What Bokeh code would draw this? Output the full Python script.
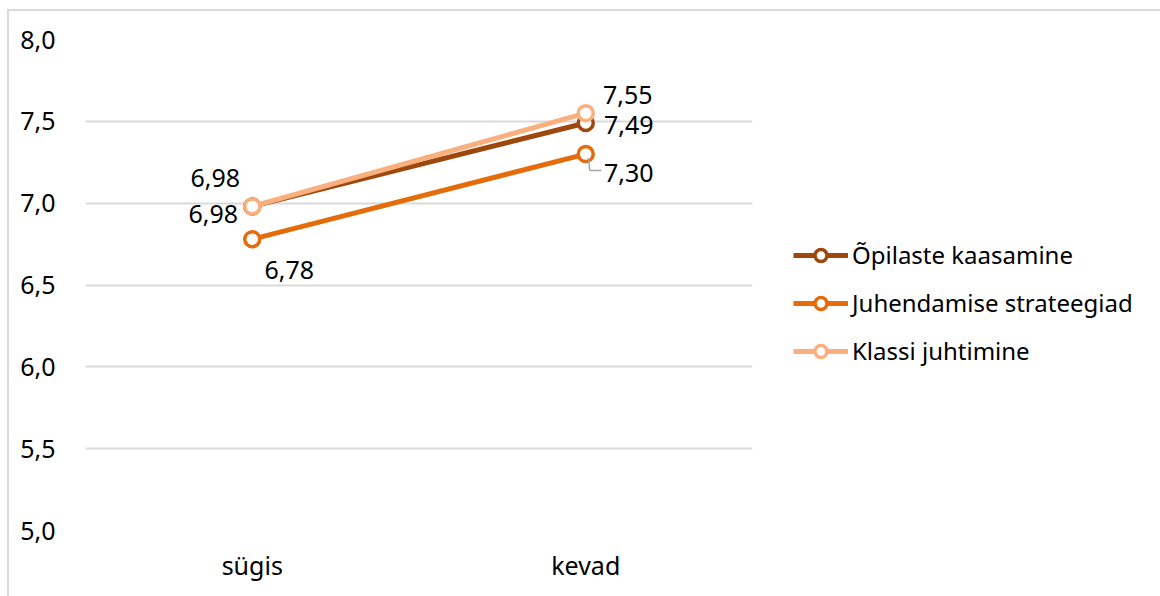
from bokeh.plotting import figure
from bokeh.layouts import row
from bokeh.models import (Legend, LegendItem, ColumnDataSource, CustomJSTickFormatter,
                          FixedTicker, FactorRange, Range1d)
from bokeh.core.properties import value
from bokeh.embed import file_html
from bokeh.resources import INLINE

categories = ["sügis", "kevad"]
series_names = ["Õpilaste kaasamine", "Juhendamise strateegiad", "Klassi juhtimine"]
opilaste = [6.98, 7.49]
juhendamise = [6.78, 7.30]
klassi = [6.98, 7.55]
colors = ["#9E480E", "#E46C0A", "#F9B07E"]
y_ticks = [5.0, 5.5, 6.0, 6.5, 7.0, 7.5, 8.0]

FONT = "Noto Sans"
H = 585

p = figure(width=760, height=H, x_range=FactorRange(*categories), y_range=Range1d(5, 8),
           output_backend="svg", toolbar_location=None,
           min_border_left=76, min_border_right=17, min_border_top=28, min_border_bottom=H - 28 - 491)
p.outline_line_color = None
p.background_fill_color = "white"
p.border_fill_color = "white"

p.xgrid.grid_line_color = None
p.ygrid.grid_line_color = "#d9d9d9"
p.ygrid.grid_line_width = 2
p.yaxis.ticker = FixedTicker(ticks=y_ticks)
p.yaxis.formatter = CustomJSTickFormatter(code="return tick.toFixed(1).replace('.', ',');")
for ax in (p.xaxis[0], p.yaxis[0]):
    ax.axis_line_color = None
    ax.major_tick_line_color = None
    ax.minor_tick_line_color = None
    ax.major_label_text_font = FONT
    ax.major_label_text_font_size = "25px"
    ax.major_label_text_color = "#000000"
p.yaxis.major_label_standoff = 24
p.xaxis.major_label_standoff = 11

all_series = [opilaste, juhendamise, klassi]
for name, vals, col in zip(series_names, all_series, colors):
    src = ColumnDataSource(dict(x=categories, y=vals))
    p.line("x", "y", source=src, line_color=col, line_width=5)
    p.scatter("x", "y", source=src, size=15, fill_color="white", line_color=col, line_width=3.5)

# data labels: (series values, index, dx, dy)
label_specs = [
    (klassi, 0, -37, -28),
    (opilaste, 0, -39, 8),
    (juhendamise, 0, 37, 31),
    (klassi, 1, 42, -18),
    (opilaste, 1, 43, 2),
    (juhendamise, 1, 43, 19),
]
for vals, i, dx, dy in label_specs:
    p.text(x=[categories[i]], y=[vals[i]], text=[f"{vals[i]:.2f}".replace(".", ",")],
           x_offset=dx, y_offset=dy, text_align="center", text_baseline="middle",
           text_font=value(FONT), text_font_size="25px", text_color="#000000")

# leader line for the 7,30 label
v = juhendamise[1]
p.line(x=[(categories[1], 0.008), (categories[1], 0.012), (categories[1], 0.047)],
       y=[v - 0.025, v - 0.10, v - 0.10], line_color="#a6a6a6", line_width=1.5)

# legend panel (renderers hold no visible data; they only supply legend glyphs)
nan = float("nan")
p2 = figure(width=391, height=H, output_backend="svg", toolbar_location=None,
            min_border_left=0, min_border_right=0, min_border_top=0, min_border_bottom=0,
            x_range=Range1d(0, 1), y_range=Range1d(0, 1))
p2.axis.visible = False
p2.grid.grid_line_color = None
p2.outline_line_color = None
p2.border_fill_color = "white"
items = []
for name, col in zip(series_names, colors):
    r1 = p2.line(x=[nan], y=[nan], line_color=col, line_width=5)
    r2 = p2.scatter(x=[nan], y=[nan], size=15, fill_color="white", line_color=col, line_width=3.5)
    items.append(LegendItem(label=name, renderers=[r1, r2]))
legend = Legend(items=items, location=(24, 163), border_line_color=None,
                background_fill_alpha=0, padding=0, margin=0,
                glyph_width=55, glyph_height=30, label_height=30, spacing=15,
                label_standoff=4, label_text_font=FONT, label_text_font_size="24px",
                label_text_color="#000000")
p2.add_layout(legend)

layout = row(p, p2, spacing=0)
layout.styles = {"margin-left": "7px", "margin-top": "9px",
                 "border-top": "2px solid #d9d9d9", "border-left": "2px solid #d9d9d9"}

open("out.html", "w").write(file_html(layout, INLINE))
